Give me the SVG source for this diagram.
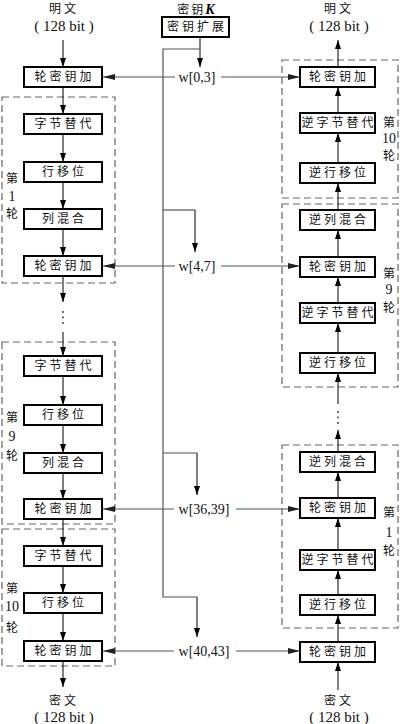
<svg xmlns="http://www.w3.org/2000/svg" width="400" height="724" viewBox="0 0 400 724">
<defs>
<marker id="ah" markerWidth="9" markerHeight="6" refX="9" refY="3" orient="auto" markerUnits="userSpaceOnUse"><path d="M0,0 L9,3 L0,6 z" fill="#000"/></marker>
<marker id="ahg" markerWidth="12" markerHeight="6" refX="12" refY="3" orient="auto" markerUnits="userSpaceOnUse"><path d="M0,0 L12,3 L0,6 z" fill="#222"/></marker>
<style>
.box{fill:#fff;stroke:#000;stroke-width:2}
.dash{fill:none;stroke:#666;stroke-width:1.2;stroke-dasharray:7,4}
.t{font-family:"Noto Sans CJK SC",sans-serif;font-size:12px;letter-spacing:3px;text-anchor:middle;fill:#111}
.lab{font-family:"Noto Sans CJK SC",sans-serif;font-size:12px;text-anchor:middle;fill:#111}
.num{font-family:"Liberation Serif","Noto Sans CJK SC",serif;font-size:14px;text-anchor:middle;fill:#111}
.io{font-family:"Liberation Serif",serif;font-size:15px;text-anchor:middle;fill:#111}
.ar{fill:none;stroke:#000;stroke-width:1;marker-end:url(#ah)}
.kl{fill:none;stroke:#555;stroke-width:1.2}
.ka{fill:none;stroke:#555;stroke-width:1.2;marker-end:url(#ahg)}
.dot{fill:#333}
</style>
</defs>
<g id="rounds">
<rect class="dash" x="2" y="97" width="113" height="186"/>
<rect class="dash" x="2" y="342" width="113" height="182"/>
<rect class="dash" x="2" y="529" width="113" height="137"/>
<rect class="dash" x="282" y="60" width="116" height="138"/>
<rect class="dash" x="282" y="204" width="116" height="183"/>
<rect class="dash" x="282" y="445" width="116" height="183"/>
<g class="lab">
<text x="12" y="183">第</text><text x="12" y="201" class="num" style="font-size:14px">1</text><text x="12" y="218">轮</text>
<text x="12" y="422">第</text><text x="12" y="441" class="num" style="font-size:14px">9</text><text x="12" y="460">轮</text>
<text x="12" y="593">第</text><text x="12" y="611" class="num" style="font-size:14px">10</text><text x="12" y="632">轮</text>
<text x="389" y="127">第</text><text x="389" y="143" class="num" style="font-size:14px">10</text><text x="389" y="160">轮</text>
<text x="389" y="278">第</text><text x="389" y="294" class="num" style="font-size:14px">9</text><text x="389" y="312">轮</text>
<text x="389" y="517">第</text><text x="389" y="537" class="num" style="font-size:14px">1</text><text x="389" y="555">轮</text>
</g>
</g>
<g id="io">
<text class="lab" x="64" y="13" style="letter-spacing:3px">明文</text>
<text class="io" x="64" y="31">( 128 bit )</text>
<text class="lab" x="339" y="13" style="letter-spacing:3px">明文</text>
<text class="io" x="339" y="31">( 128 bit )</text>
<text class="lab" x="64" y="705" style="letter-spacing:3px">密文</text>
<text class="io" x="64" y="722">( 128 bit )</text>
<text class="lab" x="339" y="705" style="letter-spacing:3px">密文</text>
<text class="io" x="339" y="722">( 128 bit )</text>
<text x="196" y="14" style="text-anchor:middle"><tspan class="lab" style="font-size:12px;letter-spacing:2px">密钥</tspan><tspan style="font-family:'Liberation Serif',serif;font-style:italic;font-weight:bold;font-size:14px">K</tspan></text>
</g>
<g id="nodes">
<g id="keyexp"><rect class="box" x="162" y="17" width="67" height="20"/><text class="t" x="197" y="31">密钥扩展</text></g>
<g id="L0"><rect class="box" x="24" y="67" width="78" height="20"/><text class="t" x="64.5" y="81">轮密钥加</text></g>
<g id="L1a"><rect class="box" x="24" y="114" width="78" height="20"/><text class="t" x="64.5" y="128">字节替代</text></g>
<g id="L1b"><rect class="box" x="24" y="162" width="78" height="20"/><text class="t" x="64.5" y="176">行移位</text></g>
<g id="L1c"><rect class="box" x="24" y="209" width="78" height="20"/><text class="t" x="64.5" y="223">列混合</text></g>
<g id="L1d"><rect class="box" x="24" y="256" width="78" height="20"/><text class="t" x="64.5" y="270">轮密钥加</text></g>
<g id="L9a"><rect class="box" x="24" y="356" width="78" height="20"/><text class="t" x="64.5" y="370">字节替代</text></g>
<g id="L9b"><rect class="box" x="24" y="405" width="78" height="20"/><text class="t" x="64.5" y="419">行移位</text></g>
<g id="L9c"><rect class="box" x="24" y="453" width="78" height="20"/><text class="t" x="64.5" y="467">列混合</text></g>
<g id="L9d"><rect class="box" x="24" y="499" width="78" height="20"/><text class="t" x="64.5" y="513">轮密钥加</text></g>
<g id="L10a"><rect class="box" x="24" y="546" width="78" height="20"/><text class="t" x="64.5" y="560">字节替代</text></g>
<g id="L10b"><rect class="box" x="24" y="593" width="78" height="20"/><text class="t" x="64.5" y="607">行移位</text></g>
<g id="L10c"><rect class="box" x="24" y="641" width="78" height="20"/><text class="t" x="64.5" y="655">轮密钥加</text></g>
<g id="R10a"><rect class="box" x="300" y="67" width="75" height="20"/><text class="t" x="339" y="81">轮密钥加</text></g>
<g id="R10b"><rect class="box" x="300" y="113" width="75" height="20"/><text class="t" x="339" y="127">逆字节替代</text></g>
<g id="R10c"><rect class="box" x="300" y="163" width="75" height="20"/><text class="t" x="339" y="177">逆行移位</text></g>
<g id="R9a"><rect class="box" x="300" y="210" width="75" height="20"/><text class="t" x="339" y="224">逆列混合</text></g>
<g id="R9b"><rect class="box" x="300" y="257" width="75" height="20"/><text class="t" x="339" y="271">轮密钥加</text></g>
<g id="R9c"><rect class="box" x="300" y="303" width="75" height="20"/><text class="t" x="339" y="317">逆字节替代</text></g>
<g id="R9d"><rect class="box" x="300" y="353" width="75" height="20"/><text class="t" x="339" y="367">逆行移位</text></g>
<g id="R1a"><rect class="box" x="300" y="452" width="75" height="20"/><text class="t" x="339" y="466">逆列混合</text></g>
<g id="R1b"><rect class="box" x="300" y="498" width="75" height="20"/><text class="t" x="339" y="512">轮密钥加</text></g>
<g id="R1c"><rect class="box" x="300" y="550" width="75" height="20"/><text class="t" x="339" y="564">逆字节替代</text></g>
<g id="R1d"><rect class="box" x="300" y="595" width="75" height="20"/><text class="t" x="339" y="609">逆行移位</text></g>
<g id="R0"><rect class="box" x="300" y="642" width="75" height="20"/><text class="t" x="339" y="656">轮密钥加</text></g>
</g>
<g id="connectors">
<path class="ar" d="M63,40 V67"/>
<path class="ar" d="M63,87 V114"/>
<path class="ar" d="M63,134 V162"/>
<path class="ar" d="M63,182 V209"/>
<path class="ar" d="M63,229 V256"/>
<path class="ar" d="M63,276 V302"/>
<path class="ar" d="M63,332 V356"/>
<path class="ar" d="M63,376 V405"/>
<path class="ar" d="M63,425 V453"/>
<path class="ar" d="M63,473 V499"/>
<path class="ar" d="M63,519 V546"/>
<path class="ar" d="M63,566 V593"/>
<path class="ar" d="M63,613 V641"/>
<path class="ar" d="M63,661 V687"/>
<circle class="dot" cx="63" cy="312" r="0.9"/><circle class="dot" cx="63" cy="317.5" r="0.9"/><circle class="dot" cx="63" cy="323" r="0.9"/>
<path class="ar" d="M338,690 V662"/>
<path class="ar" d="M338,642 V615"/>
<path class="ar" d="M338,595 V570"/>
<path class="ar" d="M338,550 V518"/>
<path class="ar" d="M338,498 V472"/>
<path class="ar" d="M338,452 V430"/>
<path class="ar" d="M338,404 V373"/>
<path class="ar" d="M338,353 V323"/>
<path class="ar" d="M338,303 V277"/>
<path class="ar" d="M338,257 V230"/>
<path class="ar" d="M338,210 V183"/>
<path class="ar" d="M338,163 V133"/>
<path class="ar" d="M338,113 V87"/>
<path class="ar" d="M338,67 V40"/>
<circle class="dot" cx="338" cy="412" r="0.9"/><circle class="dot" cx="338" cy="417.5" r="0.9"/><circle class="dot" cx="338" cy="423" r="0.9"/>
<path class="ar" d="M200,37 V67"/>
<path class="kl" d="M200,49 H163 V597 H197"/>
<path class="ar" d="M197,597 V637"/>
<path class="kl" d="M163,210 H195"/>
<path class="ar" d="M195,210 V252"/>
<path class="kl" d="M163,453 H197"/>
<path class="ar" d="M197,453 V495"/>
<path class="ka" d="M175,77 H103"/>
<path class="ka" d="M221,77 H300"/>
<path class="ka" d="M175,266 H103"/>
<path class="ka" d="M221,266 H300"/>
<path class="ka" d="M174,509 H103"/>
<path class="ka" d="M236,509 H300"/>
<path class="ka" d="M174,651 H103"/>
<path class="ka" d="M236,651 H300"/>
<text class="num" x="197" y="82">w[0,3]</text>
<text class="num" x="197" y="271">w[4,7]</text>
<text class="num" x="204" y="514">w[36,39]</text>
<text class="num" x="204" y="656">w[40,43]</text>
</g>
</svg>
